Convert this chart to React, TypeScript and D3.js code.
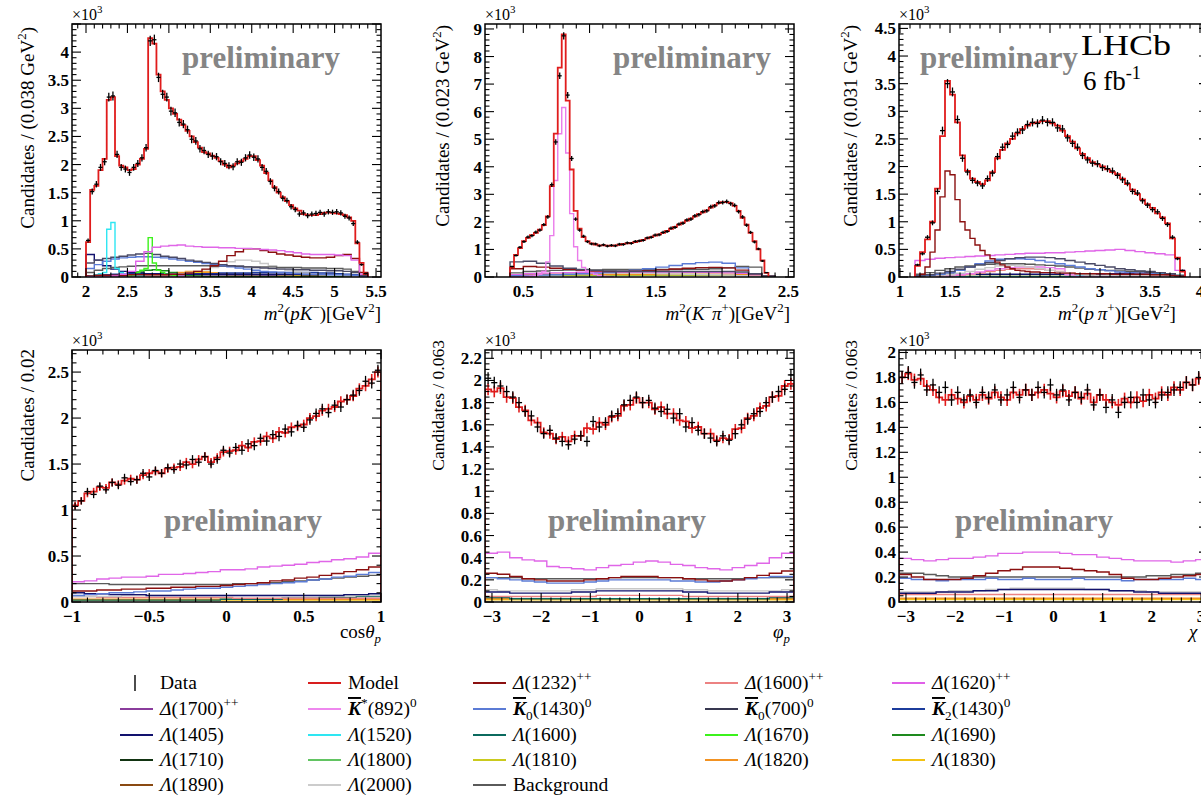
import React from "react";
import * as d3 from "d3";

// ---------------- DATA (values in units of 10^3 candidates) ----------------
// Panel 1: m2(pK-), main bins start 2.00, width 0.05
const p1Model = [0.62,1.55,1.62,1.9,2.1,3.15,3.2,2.15,1.98,1.95,1.9,1.92,2.0,2.1,2.28,4.25,4.15,3.6,3.3,3.15,3.0,2.9,2.8,2.7,2.6,2.5,2.4,2.3,2.22,2.2,2.16,2.12,2.06,2.0,1.95,1.98,2.02,2.06,2.1,2.15,2.15,2.08,1.98,1.85,1.72,1.6,1.5,1.42,1.35,1.28,1.22,1.18,1.12,1.1,1.1,1.1,1.12,1.14,1.15,1.14,1.13,1.12,1.1,1.06,1.0,0.6,0.25,0.05];
const p1Data = [0.65,1.52,1.65,1.95,2.05,3.2,3.22,2.18,1.95,1.92,1.86,1.95,2.02,2.12,2.3,4.2,4.22,3.55,3.25,3.2,2.95,2.92,2.75,2.72,2.62,2.45,2.42,2.28,2.25,2.18,2.15,2.14,2.05,2.02,1.98,1.96,2.05,2.04,2.12,2.17,2.13,2.1,1.95,1.88,1.7,1.58,1.52,1.4,1.36,1.25,1.2,1.12,1.14,1.09,1.12,1.13,1.15,1.12,1.16,1.15,1.16,1.14,1.08,1.05,0.95,0.62,0.22,0.06];
// components, bins start 2.0, width 0.1
const p1D1620 = [0,0,0,0.02,0.05,0.1,0.28,0.45,0.53,0.55,0.56,0.57,0.55,0.54,0.53,0.53,0.52,0.52,0.51,0.51,0.5,0.49,0.48,0.47,0.45,0.43,0.41,0.4,0.4,0.4,0.39,0.38,0.3,0.05];
const p1D1232 = [0.02,0.03,0.03,0.03,0.03,0.04,0.04,0.04,0.04,0.04,0.05,0.05,0.07,0.1,0.14,0.2,0.28,0.38,0.45,0.5,0.5,0.47,0.44,0.41,0.39,0.37,0.35,0.34,0.34,0.35,0.38,0.4,0.33,0.08];
const p1K700 = [0.25,0.3,0.33,0.35,0.37,0.39,0.41,0.42,0.4,0.37,0.35,0.33,0.3,0.28,0.26,0.24,0.22,0.2,0.19,0.18,0.17,0.16,0.15,0.14,0.14,0.13,0.13,0.12,0.12,0.11,0.11,0.1,0.08,0.03];
const p1K1430 = [0.15,0.22,0.28,0.32,0.34,0.35,0.36,0.36,0.35,0.34,0.32,0.3,0.28,0.26,0.24,0.22,0.2,0.18,0.16,0.14,0.12,0.1,0.09,0.08,0.07,0.06,0.05,0.05,0.05,0.04,0.04,0.04,0.03,0.01];
const p1L1405 = [0.4,0.3,0.2,0.14,0.1,0.08,0.07,0.06,0.06,0.05,0.05,0.05,0.05,0.05,0.05,0.05,0.05,0.05,0.05,0.05,0.05,0.05,0.05,0.05,0.05,0.05,0.04,0.04,0.04,0.04,0.04,0.03,0.02,0.01];
const p1Bkg = [0.08,0.12,0.15,0.17,0.18,0.19,0.2,0.2,0.2,0.2,0.2,0.2,0.2,0.2,0.2,0.19,0.19,0.19,0.19,0.18,0.18,0.18,0.18,0.17,0.17,0.17,0.16,0.16,0.16,0.15,0.15,0.14,0.1,0.03];
const p1L2000 = [0,0,0,0,0,0,0.01,0.02,0.03,0.04,0.05,0.06,0.08,0.1,0.13,0.17,0.22,0.27,0.3,0.3,0.28,0.24,0.2,0.16,0.12,0.09,0.07,0.05,0.04,0.03,0.03,0.02,0.01,0];
const p1L1690 = [0,0,0.01,0.02,0.04,0.06,0.09,0.12,0.13,0.11,0.08,0.05,0.03,0.02,0.01,0.01,0.01,0.01,0.01,0.01,0.01,0.01,0.01,0.01,0.01,0.01,0.01,0.01,0.01,0.01,0.01,0.01,0,0];
const p1L1820 = [0,0,0,0,0,0,0,0.01,0.02,0.04,0.06,0.08,0.1,0.1,0.09,0.07,0.05,0.04,0.03,0.02,0.02,0.02,0.02,0.02,0.02,0.02,0.02,0.02,0.02,0.02,0.02,0.02,0.01,0];
const p1L1830 = [0,0,0,0,0,0,0,0,0.01,0.02,0.03,0.05,0.07,0.08,0.08,0.07,0.05,0.04,0.03,0.02,0.02,0.02,0.02,0.02,0.02,0.02,0.02,0.02,0.02,0.02,0.02,0.02,0.01,0];
const p1D1700 = [0.01,0.01,0.01,0.01,0.01,0.01,0.01,0.02,0.02,0.02,0.02,0.02,0.02,0.02,0.02,0.02,0.02,0.02,0.02,0.02,0.02,0.03,0.03,0.04,0.04,0.05,0.05,0.05,0.05,0.05,0.04,0.03,0.02,0.01];
const p1K2 = [0.02,0.03,0.04,0.05,0.05,0.06,0.06,0.06,0.06,0.06,0.06,0.06,0.06,0.06,0.06,0.06,0.07,0.07,0.07,0.07,0.08,0.08,0.08,0.08,0.08,0.08,0.08,0.08,0.07,0.07,0.06,0.05,0.04,0.01];
// narrow ones, width 0.05
const p1L1520 = [0,0.02,0.04,0.06,0.08,0.85,0.97,0.15,0.08,0.05,0.04,0.03,0.02,0.02]; // from 2.00
const p1L1670 = [0.02,0.04,0.08,0.12,0.15,0.7,0.25,0.12,0.08,0.05,0.04,0.03]; // from 2.50

// Panel 2: m2(K-pi+), main bins start 0.40, width 0.03
const p2Model = [0.35,0.8,1.05,1.3,1.42,1.52,1.6,1.72,1.88,2.2,3.3,5.2,7.6,8.8,6.4,3.9,2.4,1.75,1.45,1.3,1.22,1.18,1.15,1.15,1.14,1.13,1.15,1.17,1.2,1.22,1.24,1.27,1.3,1.35,1.4,1.45,1.5,1.55,1.6,1.67,1.75,1.82,1.9,1.97,2.05,2.12,2.2,2.28,2.35,2.42,2.52,2.6,2.68,2.72,2.72,2.68,2.58,2.4,2.15,1.9,1.6,1.3,1.0,0.6,0.15];
const p2Data = [0.38,0.78,1.08,1.28,1.45,1.5,1.63,1.7,1.9,2.18,3.35,4.9,7.3,8.75,6.6,4.3,2.1,1.7,1.48,1.28,1.2,1.2,1.13,1.17,1.12,1.15,1.13,1.19,1.18,1.24,1.22,1.29,1.31,1.33,1.42,1.44,1.52,1.53,1.62,1.65,1.77,1.8,1.92,1.95,2.07,2.1,2.22,2.26,2.37,2.4,2.55,2.58,2.7,2.7,2.74,2.66,2.6,2.37,2.18,1.88,1.62,1.27,1.02,0.58,0.16];
const p2Kst = [0,0,0.01,0.02,0.03,0.04,0.06,0.1,0.2,0.55,1.5,3.5,5.2,6.15,4.5,2.3,1.1,0.6,0.35,0.22,0.15,0.1,0.06,0.03,0.02,0.01]; // width 0.03 from 0.40
// components, bins start 0.4, width 0.1
const p2K700 = [0.55,0.57,0.5,0.4,0.32,0.27,0.24,0.22,0.21,0.2,0.2,0.2,0.2,0.2,0.2,0.2,0.2,0.18,0.12,0.02];
const p2D1232 = [0.3,0.38,0.36,0.32,0.28,0.25,0.22,0.2,0.2,0.21,0.23,0.26,0.29,0.32,0.34,0.35,0.33,0.25,0.12,0.02];
const p2K1430 = [0.05,0.06,0.07,0.08,0.1,0.12,0.14,0.16,0.2,0.25,0.3,0.36,0.42,0.48,0.52,0.54,0.5,0.33,0.12,0.02];
const p2Bkg = [0.15,0.2,0.22,0.24,0.25,0.26,0.26,0.27,0.27,0.27,0.27,0.27,0.27,0.28,0.28,0.3,0.33,0.38,0.36,0.05];
const p2D1620 = [0.08,0.12,0.14,0.15,0.16,0.17,0.17,0.18,0.18,0.18,0.18,0.18,0.18,0.17,0.17,0.16,0.15,0.13,0.08,0.01];
const p2L2000 = [0.02,0.04,0.06,0.08,0.1,0.12,0.13,0.14,0.14,0.14,0.13,0.12,0.11,0.1,0.09,0.08,0.07,0.05,0.03,0.01];
const p2L1820 = [0.05,0.08,0.1,0.1,0.1,0.1,0.1,0.1,0.1,0.1,0.1,0.1,0.1,0.1,0.1,0.1,0.1,0.1,0.08,0.02];
const p2L1830 = [0.04,0.06,0.08,0.08,0.08,0.08,0.08,0.08,0.08,0.08,0.08,0.08,0.08,0.08,0.08,0.08,0.08,0.08,0.06,0.01];
const p2L1800 = [0.03,0.05,0.06,0.06,0.06,0.06,0.06,0.06,0.06,0.06,0.06,0.06,0.06,0.06,0.06,0.06,0.06,0.06,0.05,0.01];

// Panel 3: m2(p pi+), main bins start 1.15, width 0.05
const p3Model = [0.2,0.45,0.68,1.0,1.6,2.55,3.55,3.3,2.8,2.2,1.92,1.78,1.72,1.68,1.75,1.9,2.15,2.3,2.42,2.5,2.6,2.68,2.74,2.78,2.8,2.82,2.82,2.78,2.74,2.65,2.55,2.45,2.33,2.23,2.15,2.08,2.04,2.0,1.95,1.9,1.86,1.78,1.68,1.58,1.5,1.4,1.32,1.25,1.15,1.08,0.97,0.7,0.35,0.1];
const p3Data = [0.22,0.42,0.72,0.98,1.55,2.65,3.5,3.35,2.85,2.15,1.9,1.75,1.7,1.65,1.78,1.88,2.18,2.35,2.4,2.55,2.62,2.66,2.76,2.8,2.78,2.84,2.8,2.8,2.7,2.68,2.52,2.42,2.35,2.2,2.12,2.06,2.05,1.98,1.96,1.92,1.84,1.76,1.7,1.55,1.52,1.38,1.3,1.22,1.18,1.06,0.95,0.72,0.33,0.12];
const p3D1232 = [0,0.05,0.18,0.45,0.85,1.45,1.92,1.85,1.4,1.0,0.85,0.7,0.58,0.48,0.4,0.33,0.27,0.22,0.18,0.15,0.12,0.11,0.1,0.09,0.09,0.08,0.08,0.08,0.07,0.07,0.07,0.07,0.06,0.06,0.06,0.06,0.06,0.06,0.06,0.05,0.05,0.05,0.05,0.05,0.05,0.05,0.05,0.04,0.04,0.04,0.04,0.03,0.02,0.01]; // width 0.05
// components, bins start 1.15, width 0.1
const p3D1620 = [0.3,0.32,0.34,0.35,0.36,0.37,0.38,0.39,0.4,0.41,0.42,0.43,0.43,0.44,0.44,0.45,0.46,0.47,0.48,0.49,0.5,0.48,0.46,0.44,0.42,0.4,0.12];
const p3K1430 = [0.02,0.03,0.05,0.08,0.12,0.18,0.24,0.29,0.32,0.33,0.33,0.32,0.3,0.27,0.24,0.21,0.18,0.15,0.13,0.11,0.09,0.08,0.07,0.06,0.05,0.04,0.02];
const p3K700 = [0.02,0.04,0.07,0.1,0.14,0.18,0.22,0.26,0.3,0.33,0.35,0.36,0.36,0.35,0.33,0.3,0.27,0.24,0.21,0.18,0.15,0.13,0.11,0.1,0.08,0.06,0.03];
const p3Bkg = [0.05,0.08,0.12,0.15,0.18,0.2,0.22,0.23,0.24,0.24,0.24,0.23,0.22,0.21,0.2,0.18,0.16,0.14,0.13,0.12,0.11,0.1,0.1,0.09,0.08,0.06,0.03];
const p3L2000 = [0,0.01,0.02,0.04,0.07,0.1,0.14,0.17,0.2,0.21,0.2,0.18,0.15,0.12,0.09,0.07,0.05,0.04,0.03,0.03,0.02,0.02,0.02,0.02,0.02,0.01,0];
const p3D1600 = [0,0,0.01,0.02,0.03,0.05,0.07,0.1,0.12,0.14,0.15,0.15,0.14,0.12,0.1,0.07,0.05,0.04,0.03,0.03,0.02,0.02,0.02,0.02,0.02,0.01,0];
const p3Kst = [0,0,0.01,0.02,0.04,0.06,0.09,0.12,0.15,0.17,0.18,0.18,0.18,0.17,0.15,0.04,0.01,0,0,0,0,0,0,0,0,0,0];
const p3L1405 = [0.02,0.03,0.04,0.05,0.05,0.05,0.05,0.05,0.05,0.05,0.05,0.05,0.05,0.05,0.05,0.05,0.05,0.05,0.05,0.06,0.06,0.06,0.07,0.08,0.08,0.06,0.02];
const p3L1820 = [0.01,0.02,0.03,0.03,0.03,0.04,0.04,0.04,0.04,0.04,0.04,0.04,0.04,0.04,0.04,0.04,0.04,0.04,0.04,0.04,0.04,0.04,0.04,0.04,0.04,0.03,0.01];
const p3L1520 = [0,0,0.01,0.01,0.01,0.01,0.01,0.01,0.01,0.01,0.01,0.01,0.01,0.01,0.01,0.01,0.02,0.02,0.02,0.02,0.03,0.03,0.04,0.05,0.06,0.06,0.03];

// Panel 4: cos(theta_p), main bins start -1, width 0.04
const p4Model = [1.05,1.1,1.18,1.2,1.25,1.24,1.3,1.28,1.32,1.34,1.33,1.38,1.4,1.42,1.4,1.45,1.46,1.47,1.52,1.5,1.55,1.58,1.52,1.57,1.63,1.64,1.65,1.7,1.68,1.74,1.75,1.8,1.78,1.85,1.84,1.9,1.91,1.93,2.0,2.02,2.08,2.1,2.12,2.18,2.2,2.24,2.32,2.35,2.42,2.5];
const p4Data = [1.04,1.1,1.2,1.17,1.26,1.22,1.3,1.27,1.35,1.31,1.33,1.4,1.36,1.43,1.4,1.46,1.44,1.5,1.49,1.55,1.52,1.58,1.5,1.55,1.65,1.62,1.68,1.65,1.72,1.7,1.78,1.75,1.82,1.8,1.88,1.85,1.92,1.9,1.98,2.05,2.1,2.06,2.14,2.12,2.2,2.25,2.3,2.4,2.38,2.52];
// components, bins start -1, width 0.08
const p4D1620 = [0.22,0.23,0.25,0.26,0.27,0.27,0.28,0.3,0.3,0.31,0.32,0.33,0.35,0.35,0.36,0.38,0.39,0.4,0.41,0.43,0.44,0.46,0.47,0.49,0.53];
const p4D1232 = [0.12,0.12,0.13,0.13,0.14,0.14,0.15,0.15,0.16,0.16,0.17,0.17,0.18,0.19,0.2,0.21,0.23,0.24,0.26,0.27,0.29,0.31,0.33,0.35,0.38];
const p4K1430 = [0.07,0.08,0.09,0.1,0.1,0.11,0.12,0.12,0.13,0.14,0.15,0.15,0.16,0.17,0.18,0.19,0.2,0.21,0.22,0.24,0.25,0.27,0.28,0.3,0.32];
const p4Bkg = [0.2,0.2,0.2,0.19,0.19,0.19,0.19,0.19,0.19,0.19,0.19,0.19,0.19,0.2,0.2,0.21,0.21,0.22,0.23,0.24,0.25,0.26,0.27,0.28,0.29];
const p4L1405 = [0.1,0.09,0.09,0.08,0.08,0.08,0.07,0.07,0.07,0.07,0.07,0.07,0.07,0.07,0.07,0.07,0.07,0.07,0.07,0.07,0.07,0.07,0.08,0.08,0.09];
const p4L2000 = [0.06,0.06,0.06,0.06,0.07,0.07,0.07,0.07,0.07,0.07,0.07,0.07,0.07,0.07,0.07,0.07,0.07,0.07,0.07,0.07,0.07,0.07,0.07,0.07,0.07];
const p4D1600 = [0.06,0.06,0.05,0.05,0.05,0.05,0.05,0.05,0.05,0.05,0.05,0.05,0.05,0.04,0.04,0.04,0.04,0.04,0.04,0.04,0.04,0.04,0.04,0.04,0.04];
const p4L1600 = [0.02,0.02,0.02,0.02,0.02,0.02,0.02,0.02,0.02,0.02,0.02,0.02,0.03,0.03,0.03,0.03,0.03,0.04,0.04,0.04,0.05,0.05,0.05,0.06,0.06];
const p4L1820 = [0.03,0.03,0.03,0.03,0.03,0.03,0.03,0.03,0.03,0.03,0.03,0.03,0.03,0.03,0.03,0.03,0.03,0.03,0.03,0.03,0.03,0.03,0.03,0.03,0.03];
const p4L1830 = [0.02,0.02,0.02,0.02,0.02,0.02,0.02,0.02,0.02,0.02,0.02,0.02,0.02,0.02,0.02,0.02,0.02,0.02,0.02,0.02,0.02,0.02,0.02,0.02,0.02];

// Panel 5: phi_p, main bins start -pi, width 2pi/50
const p5Model = [1.92,1.9,1.93,1.85,1.84,1.76,1.73,1.64,1.62,1.53,1.52,1.47,1.49,1.45,1.5,1.5,1.57,1.56,1.62,1.6,1.67,1.68,1.77,1.78,1.84,1.8,1.8,1.74,1.76,1.7,1.7,1.64,1.63,1.57,1.58,1.52,1.52,1.46,1.48,1.47,1.56,1.57,1.66,1.68,1.75,1.77,1.85,1.86,1.95,1.97];
const p5Data = [2.02,1.98,1.95,1.9,1.85,1.8,1.72,1.68,1.58,1.52,1.55,1.48,1.45,1.42,1.47,1.5,1.45,1.63,1.58,1.62,1.68,1.7,1.78,1.82,1.85,1.8,1.82,1.75,1.72,1.74,1.66,1.7,1.58,1.62,1.55,1.52,1.48,1.45,1.5,1.46,1.52,1.6,1.65,1.7,1.72,1.8,1.85,1.9,1.92,2.05];
// components, width 2pi/25
const p5D1620 = [0.44,0.45,0.4,0.38,0.37,0.32,0.31,0.3,0.29,0.31,0.33,0.34,0.36,0.37,0.36,0.34,0.33,0.31,0.3,0.29,0.31,0.33,0.35,0.4,0.44];
const p5D1232 = [0.26,0.25,0.23,0.21,0.2,0.19,0.19,0.19,0.2,0.21,0.22,0.23,0.23,0.23,0.22,0.22,0.21,0.2,0.19,0.19,0.2,0.22,0.24,0.26,0.28];
const p5K1430 = [0.22,0.21,0.2,0.19,0.18,0.17,0.17,0.17,0.18,0.19,0.2,0.2,0.2,0.2,0.2,0.19,0.19,0.18,0.18,0.19,0.2,0.21,0.22,0.23,0.23];
const p5Bkg = [0.22,0.22,0.22,0.21,0.21,0.21,0.21,0.21,0.21,0.21,0.22,0.22,0.22,0.22,0.22,0.22,0.21,0.21,0.21,0.21,0.21,0.22,0.22,0.22,0.22];
const p5L1405 = [0.09,0.09,0.08,0.08,0.08,0.08,0.08,0.09,0.09,0.1,0.1,0.1,0.1,0.1,0.1,0.1,0.09,0.09,0.08,0.08,0.08,0.08,0.08,0.09,0.09];
const p5L2000 = [0.11,0.1,0.1,0.1,0.1,0.1,0.1,0.11,0.11,0.12,0.12,0.12,0.12,0.12,0.12,0.12,0.11,0.11,0.1,0.1,0.1,0.1,0.1,0.1,0.11];
const p5D1600 = [0.05,0.05,0.05,0.05,0.05,0.05,0.05,0.05,0.05,0.06,0.06,0.06,0.06,0.06,0.06,0.06,0.05,0.05,0.05,0.05,0.05,0.05,0.05,0.05,0.05];
const p5L1600 = [0.04,0.04,0.03,0.03,0.03,0.03,0.03,0.03,0.03,0.03,0.03,0.03,0.03,0.03,0.03,0.03,0.03,0.03,0.03,0.03,0.03,0.03,0.03,0.04,0.04];
const p5L1820 = [0.03,0.03,0.03,0.03,0.03,0.03,0.03,0.03,0.03,0.03,0.03,0.03,0.03,0.03,0.03,0.03,0.03,0.03,0.03,0.03,0.03,0.03,0.03,0.03,0.03];
const p5L1830 = [0.02,0.02,0.02,0.02,0.02,0.02,0.02,0.02,0.02,0.02,0.02,0.02,0.02,0.02,0.02,0.02,0.02,0.02,0.02,0.02,0.02,0.02,0.02,0.02,0.02];

// Panel 6: chi, main bins start -pi, width 2pi/50
const p6Model = [1.8,1.83,1.78,1.79,1.73,1.7,1.64,1.62,1.66,1.63,1.6,1.65,1.62,1.66,1.63,1.68,1.64,1.62,1.68,1.66,1.7,1.66,1.68,1.7,1.67,1.64,1.69,1.65,1.68,1.63,1.67,1.6,1.66,1.62,1.6,1.58,1.63,1.6,1.64,1.61,1.66,1.63,1.68,1.66,1.72,1.7,1.76,1.74,1.79,1.82];
const p6Data = [1.8,1.84,1.76,1.82,1.7,1.74,1.68,1.72,1.62,1.68,1.62,1.66,1.6,1.68,1.64,1.7,1.62,1.66,1.72,1.64,1.7,1.66,1.72,1.68,1.74,1.66,1.7,1.62,1.68,1.64,1.7,1.58,1.66,1.56,1.62,1.52,1.6,1.64,1.6,1.66,1.62,1.6,1.66,1.68,1.7,1.72,1.76,1.74,1.8,1.84];
const p6D1620 = [0.35,0.34,0.33,0.34,0.35,0.35,0.36,0.37,0.39,0.39,0.4,0.4,0.4,0.39,0.38,0.38,0.36,0.35,0.34,0.33,0.33,0.33,0.32,0.33,0.34];
const p6D1232 = [0.22,0.2,0.18,0.18,0.18,0.19,0.21,0.23,0.25,0.26,0.28,0.28,0.28,0.27,0.26,0.25,0.24,0.22,0.19,0.18,0.18,0.19,0.2,0.21,0.22];
const p6K1430 = [0.19,0.18,0.18,0.17,0.18,0.18,0.18,0.19,0.18,0.18,0.19,0.18,0.18,0.18,0.19,0.18,0.18,0.18,0.17,0.18,0.18,0.18,0.18,0.19,0.18];
const p6Bkg = [0.23,0.23,0.22,0.21,0.2,0.2,0.2,0.2,0.2,0.2,0.2,0.2,0.2,0.2,0.2,0.2,0.2,0.2,0.2,0.2,0.21,0.21,0.22,0.22,0.23];
const p6L1405 = [0.07,0.07,0.07,0.08,0.08,0.08,0.09,0.09,0.1,0.1,0.1,0.1,0.1,0.1,0.1,0.1,0.1,0.09,0.09,0.08,0.08,0.07,0.07,0.07,0.07];
const p6L2000 = [0.08,0.08,0.08,0.08,0.09,0.09,0.09,0.1,0.1,0.11,0.11,0.11,0.11,0.11,0.11,0.1,0.1,0.09,0.09,0.09,0.08,0.08,0.08,0.08,0.08];
const p6D1600 = [0.06,0.06,0.06,0.06,0.06,0.06,0.06,0.06,0.06,0.06,0.06,0.06,0.06,0.06,0.06,0.06,0.06,0.06,0.06,0.06,0.06,0.06,0.06,0.06,0.06];
const p6L1820 = [0.03,0.03,0.03,0.03,0.03,0.03,0.03,0.03,0.03,0.03,0.03,0.03,0.03,0.03,0.03,0.03,0.03,0.03,0.03,0.03,0.03,0.03,0.03,0.03,0.03];
const p6L1830 = [0.02,0.02,0.02,0.02,0.02,0.02,0.02,0.02,0.02,0.02,0.02,0.02,0.02,0.02,0.02,0.02,0.02,0.02,0.02,0.02,0.02,0.02,0.02,0.02,0.02];

// Tick values / labels
const p1XTicks = [2, 2.5, 3, 3.5, 4, 4.5, 5, 5.5];
const p1XLabels = ["2", "2.5", "3", "3.5", "4", "4.5", "5", "5.5"];
const p1YTicks = [0, 0.5, 1, 1.5, 2, 2.5, 3, 3.5, 4];
const p1YLabels = ["0", "0.5", "1", "1.5", "2", "2.5", "3", "3.5", "4"];
const p2XTicks = [0.5, 1, 1.5, 2, 2.5];
const p2XLabels = ["0.5", "1", "1.5", "2", "2.5"];
const p2YTicks = [0, 1, 2, 3, 4, 5, 6, 7, 8, 9];
const p2YLabels = ["0", "1", "2", "3", "4", "5", "6", "7", "8", "9"];
const p3XTicks = [1, 1.5, 2, 2.5, 3, 3.5, 4];
const p3XLabels = ["1", "1.5", "2", "2.5", "3", "3.5", "4"];
const p3YTicks = [0, 0.5, 1, 1.5, 2, 2.5, 3, 3.5, 4, 4.5];
const p3YLabels = ["0", "0.5", "1", "1.5", "2", "2.5", "3", "3.5", "4", "4.5"];
const p4XTicks = [-1, -0.5, 0, 0.5, 1];
const p4XLabels = ["\u22121", "\u22120.5", "0", "0.5", "1"];
const p4YTicks = [0, 0.5, 1, 1.5, 2, 2.5];
const p4YLabels = ["0", "0.5", "1", "1.5", "2", "2.5"];
const angXTicks = [-3, -2, -1, 0, 1, 2, 3];
const angXLabels = ["\u22123", "\u22122", "\u22121", "0", "1", "2", "3"];
const p5YTicks = [0, 0.2, 0.4, 0.6, 0.8, 1, 1.2, 1.4, 1.6, 1.8, 2, 2.2];
const p5YLabels = ["0", "0.2", "0.4", "0.6", "0.8", "1", "1.2", "1.4", "1.6", "1.8", "2", "2.2"];
const p6YTicks = [0, 0.2, 0.4, 0.6, 0.8, 1, 1.2, 1.4, 1.6, 1.8, 2];
const p6YLabels = ["0", "0.2", "0.4", "0.6", "0.8", "1", "1.2", "1.4", "1.6", "1.8", "2"];

// Legend
const legendLabels: string[][] = [
  ["Data"], ["Model"], ["i|\u0394", "(1232)", "^|++"], ["i|\u0394", "(1600)", "^|++"], ["i|\u0394", "(1620)", "^|++"],
  ["i|\u0394", "(1700)", "^|++"], ["bio|K", "^|*", "(892)", "^|0"], ["bio|K", "_|0", "(1430)", "^|0"], ["bio|K", "_|0", "(700)", "^|0"], ["bio|K", "_|2", "(1430)", "^|0"],
  ["i|\u039B", "(1405)"], ["i|\u039B", "(1520)"], ["i|\u039B", "(1600)"], ["i|\u039B", "(1670)"], ["i|\u039B", "(1690)"],
  ["i|\u039B", "(1710)"], ["i|\u039B", "(1800)"], ["i|\u039B", "(1810)"], ["i|\u039B", "(1820)"], ["i|\u039B", "(1830)"],
  ["i|\u039B", "(1890)"], ["i|\u039B", "(2000)"], ["Background"],
];
const legendColors = [
  "#000", "#d81e1e", "#8b1010", "#ec8282", "#e060e8",
  "#8a3c9c", "#ee88ee", "#5b7bd5", "#383850", "#1c3c9c",
  "#12126e", "#2ee6f2", "#0b6a5e", "#3cf21c", "#1e8a1e",
  "#123412", "#62c462", "#caca1e", "#f29222", "#f2c212",
  "#8a4a12", "#cccccc", "#5a5a5a",
];

// ---------------- STYLE ----------------
const COL = {
  model: "#e01c1c", d1232: "#8b1010", d1600: "#ec8282", d1620: "#e066e8", d1700: "#8a3c9c",
  kst: "#ea7cea", k1430: "#5b7bd5", k700: "#4a4a66", k2: "#1c3c9c", l1405: "#12126e",
  l1520: "#2ee6f2", l1600: "#0b6a5e", l1670: "#3cf21c", l1690: "#1e8a1e", l1800: "#62c462",
  l1820: "#f29222", l1830: "#f2c212", l2000: "#c8c8c8", bkg: "#5a5a5a",
};
const FONT = "'Liberation Serif','Times New Roman',serif";
const PI = Math.PI;

type Comp = { v: number[]; x0: number; w: number; color: string };
type PanelCfg = {
  left: number; top: number; width: number; height: number;
  xDomain: [number, number]; yDomain: [number, number];
  xTicks: number[]; xLabels: string[]; yTicks: number[]; yLabels: string[];
  xMinor: number; yMinor: number;
  x0: number; w: number; model: number[]; data: number[]; comps: Comp[];
  modelErr: boolean; errMult: number;
  yTitle: string[]; yTitleX: number; yTitleTop: number; yTitleFs: number;
  xTitle: string[]; xTitleX: number; xTitleAnchor: string; xTitleY: number;
  prelimX: number; prelimY: number;
};

const TOP_A = 24, H_A = 253, TOP_B = 350, H_B = 252, W = 309;

const panels: PanelCfg[] = [
  {
    left: 72, top: TOP_A, width: W, height: H_A, xDomain: [1.831, 5.56], yDomain: [0, 4.5],
    xTicks: p1XTicks, xLabels: p1XLabels, yTicks: p1YTicks, yLabels: p1YLabels, xMinor: 0.1, yMinor: 0.1,
    x0: 2.0, w: 0.05, model: p1Model, data: p1Data, modelErr: false, errMult: 1.4,
    comps: [
      { v: p1L1830, x0: 2.0, w: 0.1, color: COL.l1830 }, { v: p1L1820, x0: 2.0, w: 0.1, color: COL.l1820 },
      { v: p1D1700, x0: 2.0, w: 0.1, color: COL.d1700 }, { v: p1L1690, x0: 2.0, w: 0.1, color: COL.l1690 },
      { v: p1K2, x0: 2.0, w: 0.1, color: COL.k2 }, { v: p1L1405, x0: 2.0, w: 0.1, color: COL.l1405 },
      { v: p1L2000, x0: 2.0, w: 0.1, color: COL.l2000 }, { v: p1Bkg, x0: 2.0, w: 0.1, color: COL.bkg },
      { v: p1K1430, x0: 2.0, w: 0.1, color: COL.k1430 }, { v: p1K700, x0: 2.0, w: 0.1, color: COL.k700 },
      { v: p1L1520, x0: 2.0, w: 0.05, color: COL.l1520 }, { v: p1L1670, x0: 2.5, w: 0.05, color: COL.l1670 },
      { v: p1D1232, x0: 2.0, w: 0.1, color: COL.d1232 }, { v: p1D1620, x0: 2.0, w: 0.1, color: COL.d1620 },
    ],
    yTitle: ["Candidates / (0.038 GeV", "^|2", ")"], yTitleX: 34, yTitleTop: 27, yTitleFs: 19,
    xTitle: ["i|m", "^|2", "(", "i|pK", "^|\u2212", ")[GeV", "^|2", "]"], xTitleX: 381, xTitleAnchor: "end", xTitleY: 320,
    prelimX: 261, prelimY: 68,
  },
  {
    left: 485, top: TOP_A, width: W, height: H_A, xDomain: [0.211, 2.543], yDomain: [0, 9.18],
    xTicks: p2XTicks, xLabels: p2XLabels, yTicks: p2YTicks, yLabels: p2YLabels, xMinor: 0.1, yMinor: 0.2,
    x0: 0.4, w: 0.03, model: p2Model, data: p2Data, modelErr: false, errMult: 1.4,
    comps: [
      { v: p2L1800, x0: 0.4, w: 0.1, color: COL.l1800 }, { v: p2L1830, x0: 0.4, w: 0.1, color: COL.l1830 },
      { v: p2L1820, x0: 0.4, w: 0.1, color: COL.l1820 }, { v: p2L2000, x0: 0.4, w: 0.1, color: COL.l2000 },
      { v: p2D1620, x0: 0.4, w: 0.1, color: COL.d1620 }, { v: p2Bkg, x0: 0.4, w: 0.1, color: COL.bkg },
      { v: p2K1430, x0: 0.4, w: 0.1, color: COL.k1430 }, { v: p2D1232, x0: 0.4, w: 0.1, color: COL.d1232 },
      { v: p2K700, x0: 0.4, w: 0.1, color: COL.k700 }, { v: p2Kst, x0: 0.4, w: 0.03, color: COL.kst },
    ],
    yTitle: ["Candidates / (0.023 GeV", "^|2", ")"], yTitleX: 449, yTitleTop: 25, yTitleFs: 19,
    xTitle: ["i|m", "^|2", "(", "i|K", "^|\u2212", "i|\u03C0", "^|+", ")[GeV", "^|2", "]"], xTitleX: 790, xTitleAnchor: "end", xTitleY: 320,
    prelimX: 692, prelimY: 68,
  },
  {
    left: 899, top: TOP_A, width: W, height: H_A, xDomain: [0.99, 4.08], yDomain: [0, 4.58],
    xTicks: p3XTicks, xLabels: p3XLabels, yTicks: p3YTicks, yLabels: p3YLabels, xMinor: 0.1, yMinor: 0.1,
    x0: 1.15, w: 0.05, model: p3Model, data: p3Data, modelErr: false, errMult: 1.4,
    comps: [
      { v: p3L1820, x0: 1.15, w: 0.1, color: COL.l1820 }, { v: p3L1520, x0: 1.15, w: 0.1, color: COL.l1520 },
      { v: p3L1405, x0: 1.15, w: 0.1, color: COL.l1405 }, { v: p3D1600, x0: 1.15, w: 0.1, color: COL.d1600 },
      { v: p3Kst, x0: 1.15, w: 0.1, color: COL.kst }, { v: p3L2000, x0: 1.15, w: 0.1, color: COL.l2000 },
      { v: p3Bkg, x0: 1.15, w: 0.1, color: COL.bkg }, { v: p3K1430, x0: 1.15, w: 0.1, color: COL.k1430 },
      { v: p3K700, x0: 1.15, w: 0.1, color: COL.k700 }, { v: p3D1620, x0: 1.15, w: 0.1, color: COL.d1620 },
      { v: p3D1232, x0: 1.15, w: 0.05, color: COL.d1232 },
    ],
    yTitle: ["Candidates / (0.031 GeV", "^|2", ")"], yTitleX: 857, yTitleTop: 25, yTitleFs: 19,
    xTitle: ["i|m", "^|2", "(", "i|p\u2009\u03C0", "^|+", ")[GeV", "^|2", "]"], xTitleX: 1058, xTitleAnchor: "start", xTitleY: 320,
    prelimX: 999, prelimY: 68,
  },
  {
    left: 72, top: TOP_B, width: W, height: H_B, xDomain: [-1, 1], yDomain: [0, 2.74],
    xTicks: p4XTicks, xLabels: p4XLabels, yTicks: p4YTicks, yLabels: p4YLabels, xMinor: 0.1, yMinor: 0.1,
    x0: -1, w: 0.04, model: p4Model, data: p4Data, modelErr: true, errMult: 1.2,
    comps: [
      { v: p4L1830, x0: -1, w: 0.08, color: COL.l1830 }, { v: p4L1820, x0: -1, w: 0.08, color: COL.l1820 },
      { v: p4L1600, x0: -1, w: 0.08, color: COL.l1600 }, { v: p4D1600, x0: -1, w: 0.08, color: COL.d1600 },
      { v: p4L2000, x0: -1, w: 0.08, color: COL.l2000 }, { v: p4L1405, x0: -1, w: 0.08, color: COL.l1405 },
      { v: p4Bkg, x0: -1, w: 0.08, color: COL.bkg }, { v: p4K1430, x0: -1, w: 0.08, color: COL.k1430 },
      { v: p4D1232, x0: -1, w: 0.08, color: COL.d1232 }, { v: p4D1620, x0: -1, w: 0.08, color: COL.d1620 },
    ],
    yTitle: ["Candidates / 0.02"], yTitleX: 34, yTitleTop: 349, yTitleFs: 19,
    xTitle: ["cos", "i|\u03B8", "_i|p"], xTitleX: 381, xTitleAnchor: "end", xTitleY: 638,
    prelimX: 243, prelimY: 531,
  },
  {
    left: 485, top: TOP_B, width: W, height: H_B, xDomain: [-PI, PI], yDomain: [0, 2.275],
    xTicks: angXTicks, xLabels: angXLabels, yTicks: p5YTicks, yLabels: p5YLabels, xMinor: 0.2, yMinor: 0.05,
    x0: -PI, w: (2 * PI) / 50, model: p5Model, data: p5Data, modelErr: true, errMult: 1.2,
    comps: [
      { v: p5L1830, x0: -PI, w: (2 * PI) / 25, color: COL.l1830 }, { v: p5L1820, x0: -PI, w: (2 * PI) / 25, color: COL.l1820 },
      { v: p5L1600, x0: -PI, w: (2 * PI) / 25, color: COL.l1600 }, { v: p5D1600, x0: -PI, w: (2 * PI) / 25, color: COL.d1600 },
      { v: p5L2000, x0: -PI, w: (2 * PI) / 25, color: COL.l2000 }, { v: p5L1405, x0: -PI, w: (2 * PI) / 25, color: COL.l1405 },
      { v: p5Bkg, x0: -PI, w: (2 * PI) / 25, color: COL.bkg }, { v: p5K1430, x0: -PI, w: (2 * PI) / 25, color: COL.k1430 },
      { v: p5D1232, x0: -PI, w: (2 * PI) / 25, color: COL.d1232 }, { v: p5D1620, x0: -PI, w: (2 * PI) / 25, color: COL.d1620 },
    ],
    yTitle: ["Candidates / 0.063"], yTitleX: 444, yTitleTop: 340, yTitleFs: 17.5,
    xTitle: ["i|\u03C6", "_i|p"], xTitleX: 790, xTitleAnchor: "end", xTitleY: 638,
    prelimX: 627, prelimY: 531,
  },
  {
    left: 899, top: TOP_B, width: W, height: H_B, xDomain: [-PI, PI], yDomain: [0, 2.02],
    xTicks: angXTicks, xLabels: angXLabels, yTicks: p6YTicks, yLabels: p6YLabels, xMinor: 0.2, yMinor: 0.05,
    x0: -PI, w: (2 * PI) / 50, model: p6Model, data: p6Data, modelErr: true, errMult: 1.2,
    comps: [
      { v: p6L1830, x0: -PI, w: (2 * PI) / 25, color: COL.l1830 }, { v: p6L1820, x0: -PI, w: (2 * PI) / 25, color: COL.l1820 },
      { v: p6D1600, x0: -PI, w: (2 * PI) / 25, color: COL.d1600 }, { v: p6L2000, x0: -PI, w: (2 * PI) / 25, color: COL.l2000 },
      { v: p6L1405, x0: -PI, w: (2 * PI) / 25, color: COL.l1405 }, { v: p6Bkg, x0: -PI, w: (2 * PI) / 25, color: COL.bkg },
      { v: p6K1430, x0: -PI, w: (2 * PI) / 25, color: COL.k1430 }, { v: p6D1232, x0: -PI, w: (2 * PI) / 25, color: COL.d1232 },
      { v: p6D1620, x0: -PI, w: (2 * PI) / 25, color: COL.d1620 },
    ],
    yTitle: ["Candidates / 0.063"], yTitleX: 857, yTitleTop: 340, yTitleFs: 17.5,
    xTitle: ["i|\u03C7"], xTitleX: 1189, xTitleAnchor: "start", xTitleY: 638,
    prelimX: 1034, prelimY: 531,
  },
];

// ---------------- RENDERING ----------------
function Rich({ parts, fs, ...rest }: any) {
  let shift = 0;
  return (
    <text fontSize={fs} {...rest}>
      {parts.map((p: string, i: number) => {
        const idx = p.indexOf("|");
        const mode = idx >= 0 ? p.slice(0, idx) : "";
        const t = idx >= 0 ? p.slice(idx + 1) : p;
        const target = mode.includes("^") ? -0.42 * fs : mode.includes("_") ? 0.28 * fs : 0;
        const dy = target - shift;
        shift = target;
        return (
          <tspan
            key={i}
            dy={dy}
            fontSize={target !== 0 ? fs * 0.68 : fs}
            fontStyle={mode.includes("i") ? "italic" : undefined}
            fontWeight={mode.includes("b") ? "bold" : undefined}
            style={mode.includes("o") ? { textDecoration: "overline" } : undefined}
          >
            {t}
          </tspan>
        );
      })}
    </text>
  );
}

function minorTicks(dom: [number, number], step: number) {
  const a = Math.ceil(dom[0] / step - 1e-6);
  const b = Math.floor(dom[1] / step + 1e-6);
  return d3.range(a, b + 1).map((k) => k * step);
}

function PanelView({ c, id }: { c: PanelCfg; id: number }) {
  const x = d3.scaleLinear().domain(c.xDomain).range([c.left, c.left + c.width]);
  const y = d3.scaleLinear().domain(c.yDomain).range([c.top + c.height, c.top]);
  const line = d3
    .line<[number, number]>()
    .x((d) => x(d[0]))
    .y((d) => y(d[1]))
    .curve(d3.curveStepAfter);
  const hist = (x0: number, w: number, v: number[]) => {
    const pts: [number, number][] = [[x0, 0]];
    v.forEach((val, i) => pts.push([x0 + i * w, val]));
    pts.push([x0 + v.length * w, v[v.length - 1]]);
    pts.push([x0 + v.length * w, 0]);
    return line(pts) || "";
  };
  const bottom = c.top + c.height;
  const right = c.left + c.width;
  const majLen = 9, minLen = 4.5;
  const mx = minorTicks(c.xDomain, c.xMinor);
  const my = minorTicks(c.yDomain, c.yMinor);
  const yStep = c.yTicks[1] - c.yTicks[0];
  const err = (v: number) => (Math.sqrt(Math.max(v, 0) * 1000) / 1000) * c.errMult;
  const clip = `clip-${id}`;
  return (
    <g>
      <defs>
        <clipPath id={clip}>
          <rect x={c.left} y={c.top} width={c.width} height={c.height} />
        </clipPath>
      </defs>
      <g clipPath={`url(#${clip})`}>
        {c.comps.map((cp, i) => (
          <path key={i} d={hist(cp.x0, cp.w, cp.v)} fill="none" stroke={cp.color} strokeWidth={1.4} />
        ))}
        <path d={hist(c.x0, c.w, c.model)} fill="none" stroke={COL.model} strokeWidth={1.8} />
        {c.modelErr &&
          c.model.map((v, i) => {
            const xc = x(c.x0 + (i + 0.5) * c.w);
            return <line key={"me" + i} x1={xc} x2={xc} y1={y(v - err(v))} y2={y(v + err(v))} stroke={COL.model} strokeWidth={1.6} />;
          })}
        {c.data.map((v, i) => {
          const xa = x(c.x0 + i * c.w), xb = x(c.x0 + (i + 1) * c.w), xc = x(c.x0 + (i + 0.5) * c.w);
          return (
            <g key={"d" + i} stroke="#000" strokeWidth={1.3}>
              <line x1={xa} x2={xb} y1={y(v)} y2={y(v)} />
              <line x1={xc} x2={xc} y1={y(v - err(v))} y2={y(v + err(v))} />
            </g>
          );
        })}
      </g>
      {/* frame and ticks */}
      <rect x={c.left} y={c.top} width={c.width} height={c.height} fill="none" stroke="#000" strokeWidth={1.5} />
      <g stroke="#000" strokeWidth={1.1}>
        {mx.map((t, i) => {
          const major = c.xTicks.some((m) => Math.abs(m - t) < 1e-6);
          const L = major ? majLen : minLen;
          return (
            <g key={"mx" + i}>
              <line x1={x(t)} x2={x(t)} y1={bottom} y2={bottom - L} />
              <line x1={x(t)} x2={x(t)} y1={c.top} y2={c.top + L} />
            </g>
          );
        })}
        {my.map((t, i) => {
          const major = Math.abs(t / yStep - Math.round(t / yStep)) < 1e-6;
          const L = major ? majLen : minLen;
          return (
            <g key={"my" + i}>
              <line x1={c.left} x2={c.left + L} y1={y(t)} y2={y(t)} />
              <line x1={right} x2={right - L} y1={y(t)} y2={y(t)} />
            </g>
          );
        })}
      </g>
      <g fontFamily={FONT} fontWeight="bold" fontSize={17} fill="#000">
        {c.xTicks.map((t, i) => (
          <text key={"xl" + i} x={x(t)} y={bottom + 20} textAnchor="middle">
            {c.xLabels[i]}
          </text>
        ))}
        {c.yTicks.map((t, i) => (
          <text key={"yl" + i} x={c.left - 3} y={y(t) + 6} textAnchor="end">
            {c.yLabels[i]}
          </text>
        ))}
      </g>
      <Rich parts={["\u00D710", "^|3"]} fs={16} x={c.left} y={c.top - 4} fontFamily={FONT} fill="#000" />
      <Rich
        parts={c.yTitle}
        fs={c.yTitleFs}
        transform={`translate(${c.yTitleX},${c.yTitleTop}) rotate(-90)`}
        textAnchor="end"
        fontFamily={FONT}
        fill="#000"
      />
      <Rich parts={c.xTitle} fs={19} x={c.xTitleX} y={c.xTitleY} textAnchor={c.xTitleAnchor} fontFamily={FONT} fill="#000" />
      <text x={c.prelimX} y={c.prelimY} textAnchor="middle" fontFamily={FONT} fontWeight="bold" fontSize={31} fill="#858585">
        preliminary
      </text>
    </g>
  );
}

const legendRowY = [683, 709, 735, 760, 785];
const legendColX = [120, 308, 473, 705, 892];

export default function App() {
  return (
    <svg
      width={1201}
      height={796}
      viewBox="0 0 1201 796"
      fontFamily={FONT}
      style={{ position: "absolute", left: 0, top: 0, background: "#fff" }}
    >
      <rect x={0} y={0} width={1201} height={796} fill="#fff" />
      {panels.map((c, i) => (
        <PanelView key={i} c={c} id={i} />
      ))}
      <text x={1081} y={55} fontFamily={FONT} fontSize={30} textLength={90} lengthAdjust="spacingAndGlyphs" fill="#000">
        LHCb
      </text>
      <Rich parts={["6 fb", "^|-1"]} fs={27} x={1083} y={90} fontFamily={FONT} fill="#000" />
      <g fontFamily={FONT}>
        {legendLabels.map((lab, i) => {
          const row = Math.floor(i / 5), col = i % 5;
          const ly = legendRowY[row], lx = legendColX[col];
          return (
            <g key={"lg" + i}>
              {i === 0 ? (
                <line x1={lx + 15} x2={lx + 15} y1={ly - 8} y2={ly + 8} stroke="#000" strokeWidth={1.4} />
              ) : (
                <line x1={lx} x2={lx + 33} y1={ly} y2={ly} stroke={legendColors[i]} strokeWidth={2.2} />
              )}
              <Rich parts={lab} fs={19.5} x={lx + 40} y={ly + 6} fill="#000" />
            </g>
          );
        })}
      </g>
    </svg>
  );
}
